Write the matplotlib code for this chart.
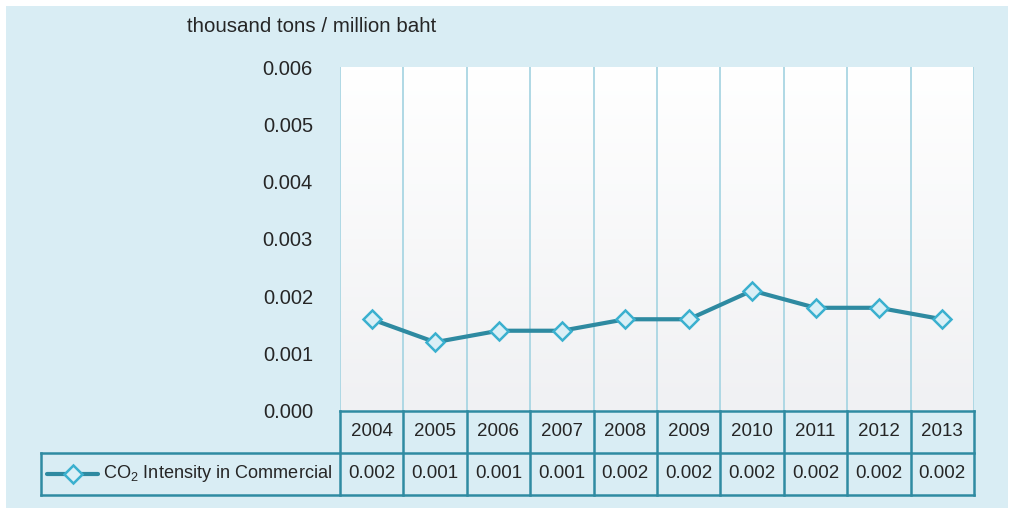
import numpy as np
import matplotlib.pyplot as plt
from matplotlib.patches import Rectangle
from matplotlib.lines import Line2D
from matplotlib.transforms import blended_transform_factory

plt.rcParams['font.family'] = ['Liberation Sans', 'DejaVu Sans']
plt.rcParams['mathtext.fontset'] = 'custom'
plt.rcParams['mathtext.rm'] = 'Liberation Sans'

# data
years = ['2004', '2005', '2006', '2007', '2008', '2009', '2010', '2011', '2012', '2013']
intensity = [0.0016, 0.0012, 0.0014, 0.0014, 0.0016, 0.0016, 0.0021, 0.0018, 0.0018, 0.0016]
table_vals = ['0.002', '0.001', '0.001', '0.001', '0.002', '0.002', '0.002', '0.002', '0.002', '0.002']
yticks = [0.000, 0.001, 0.002, 0.003, 0.004, 0.005, 0.006]
series_name = r'CO$_{\mathregular{2}}$ Intensity in Commercial'
unit_label = 'thousand tons / million baht'

W, H = 1011, 509
panel_col = '#d9edf4'
border_col = '#2f8ba2'
grid_col = '#a9d6e3'
line_col = '#2e8aa1'
mk_edge = '#3ab0cf'
mk_face = '#d9eff6'
txt_col = '#262626'

fig = plt.figure(figsize=(W / 100, H / 100), dpi=100, facecolor='white')

# light blue panel
fig.add_artist(Rectangle((6 / W, 1 / H), 1002 / W, 502 / H, transform=fig.transFigure,
                         facecolor=panel_col, edgecolor='none', zorder=0))

ax = fig.add_axes([340 / W, (H - 411) / H, 634 / W, 344 / H])
ax.set_facecolor('none')
x = np.arange(len(years))
ax.set_xlim(-0.5, len(years) - 0.5)
ax.set_ylim(0, 0.006)

# gradient background
grad = np.linspace(0, 1, 100).reshape(-1, 1)
ax.imshow(grad, extent=(-0.5, len(years) - 0.5, 0, 0.006), aspect='auto',
          cmap=plt.matplotlib.colors.LinearSegmentedColormap.from_list('g', ['#f0f1f3', '#ffffff']),
          origin='lower', zorder=0)

# vertical category dividers
for b in np.arange(len(years) + 1) - 0.5:
    ax.axvline(b, color=grid_col, lw=1.3, zorder=1)

ax.plot(x, intensity, color=line_col, lw=3.0, marker='D', markersize=9,
        markerfacecolor=mk_face, markeredgecolor=mk_edge, markeredgewidth=1.8, zorder=3)

ax.set_yticks(yticks)
ax.set_yticklabels(['%.3f' % t for t in yticks], fontsize=14.5, color=txt_col)
ax.tick_params(axis='y', length=0, pad=19.5)
ax.set_xticks([])
for s in ax.spines.values():
    s.set_visible(False)

fig.text(187 / W, (H - 27) / H, unit_label, fontsize=14.8, color=txt_col, va='center', ha='left')

# data table under the plot
tr = blended_transform_factory(ax.transData, ax.transAxes)
r1 = -42 / 344
r2 = -84 / 344
leg_left = -0.5 - 299 / 63.4
right = len(years) - 0.5

def seg(x0, y0, x1, y1):
    ax.add_line(Line2D([x0, x1], [y0, y1], transform=tr, color=border_col, lw=1.8,
                       clip_on=False, zorder=4))

seg(-0.5, 0, right, 0)
seg(leg_left, r1, right, r1)
seg(leg_left, r2, right, r2)
seg(leg_left, r1, leg_left, r2)
for b in np.arange(len(years) + 1) - 0.5:
    seg(b, 0, b, r2)

for i, (yr, v) in enumerate(zip(years, table_vals)):
    ax.text(i, r1 / 2, yr, transform=tr, ha='center', va='center', fontsize=13.5, color=txt_col)
    ax.text(i, (r1 + r2) / 2, v, transform=tr, ha='center', va='center', fontsize=13.5, color=txt_col)

# legend key in the table
ym = (r1 + r2) / 2
k0 = leg_left + 6 / 63.4
k1 = leg_left + 57 / 63.4
ax.add_line(Line2D([k0, k1], [ym, ym], transform=tr, color=line_col, lw=3.0,
                   clip_on=False, zorder=5, solid_capstyle='round'))
ax.add_line(Line2D([(k0 + k1) / 2], [ym], transform=tr, marker='D', markersize=9,
                   markerfacecolor=mk_face, markeredgecolor=mk_edge, markeredgewidth=1.8,
                   clip_on=False, zorder=6))
ax.text(leg_left + 62 / 63.4, ym, series_name, transform=tr, ha='left', va='center',
        fontsize=13.1, color=txt_col)

plt.savefig('out.png', dpi=100, facecolor='white')
